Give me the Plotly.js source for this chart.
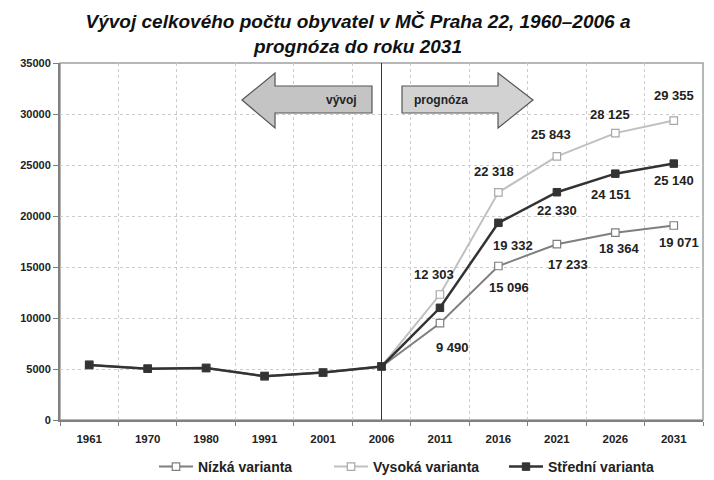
<!DOCTYPE html>
<html>
<head>
<meta charset="utf-8">
<script src="https://cdn.plot.ly/plotly-3.0.1.min.js"></script>
<style>html,body{margin:0;padding:0;background:#fff;}#chart{width:714px;height:480px;}</style>
</head>
<body>
<div id="chart"></div>
<script>
// ---- data ----
var years = ['1961','1970','1980','1991','2001','2006','2011','2016','2021','2026','2031'];
var nizka   = [5400, 5030, 5100, 4300, 4650, 5250, 9490, 15096, 17233, 18364, 19071];
var vysoka  = [5400, 5030, 5100, 4300, 4650, 5250, 12303, 22318, 25843, 28125, 29355];
var stredni = [5400, 5030, 5100, 4300, 4650, 5250, 11000, 19332, 22330, 24151, 25140];
var seriesNames = ['Nízká varianta', 'Vysoká varianta', 'Střední varianta'];
var labelYears = ['2011','2016','2021','2026','2031'];
var yTicks = [0, 5000, 10000, 15000, 20000, 25000, 30000, 35000];

var FONT = '"Liberation Sans", Arial, sans-serif';

function fmt(v) {
  var s = String(v);
  if (s.length > 3) s = s.slice(0, s.length - 3) + ' ' + s.slice(s.length - 3);
  return s;
}

var traces = [
  {x: years, y: nizka, name: seriesNames[0], type: 'scatter', mode: 'lines+markers',
   line: {color: '#7f7f7f', width: 2},
   marker: {symbol: 'square', size: 7.5, color: '#ffffff', line: {color: '#7f7f7f', width: 1.2}}},
  {x: years, y: vysoka, name: seriesNames[1], type: 'scatter', mode: 'lines+markers',
   line: {color: '#c0c0c0', width: 2},
   marker: {symbol: 'square', size: 7.5, color: '#ffffff', line: {color: '#a8a8a8', width: 1.2}}},
  {x: years, y: stredni, name: seriesNames[2], type: 'scatter', mode: 'lines+markers',
   line: {color: '#333333', width: 2.5},
   marker: {symbol: 'square', size: 7.5, color: '#333333', line: {color: '#333333', width: 1}}}
];

// label offsets in screen px [dx, dy] (dy positive = below the point)
var shiftsV = [[-6,-20],[-4,-21],[-6,-22],[-5,-19],[0,-25]];
var shiftsS = [null,[15,23],[0,18],[-4,21],[0,17]];
var shiftsN = [[13,24],[11,21],[11,20],[4,16],[5,17]];

var annotations = [];
function addLabels(vals, shifts) {
  labelYears.forEach(function (yr, i) {
    if (!shifts[i]) return;
    var idx = years.indexOf(yr);
    annotations.push({x: idx, y: vals[idx], xref: 'x', yref: 'y', text: '<b>' + fmt(vals[idx]) + '</b>',
      showarrow: false, xanchor: 'center', yanchor: 'middle',
      xshift: shifts[i][0], yshift: -shifts[i][1],
      font: {family: FONT, size: 13, color: '#222'}});
  });
}
addLabels(vysoka, shiftsV);
addLabels(stredni, shiftsS);
addLabels(nizka, shiftsN);

// plot area in px: x 60..703, y 63..420
function px(x) { return (x - 60) / 643; }
function py(y) { return (420 - y) / 357; }
function path(pts) {
  return pts.map(function (p, i) { return (i ? 'L' : 'M') + px(p[0]).toFixed(4) + ',' + py(p[1]).toFixed(4); }).join(' ') + ' Z';
}
var leftArrow = [[242,100],[275,73],[275,86],[372,86],[372,113],[275,113],[275,128]];
var rightArrow = [[402,86],[498,86],[498,73],[533,100],[498,128],[498,113],[402,113]];

annotations.push({xref: 'paper', yref: 'paper', x: px(341), y: py(100), xanchor: 'center', yanchor: 'middle',
  text: '<b>vývoj</b>', showarrow: false, font: {family: FONT, size: 12, color: '#222'}});
annotations.push({xref: 'paper', yref: 'paper', x: px(441), y: py(100), xanchor: 'center', yanchor: 'middle',
  text: '<b>prognóza</b>', showarrow: false, font: {family: FONT, size: 12, color: '#222'}});

var shapes = [
  {type: 'rect', xref: 'paper', yref: 'paper', x0: 0, x1: 1, y0: 0, y1: 1, line: {color: '#a0a0a0', width: 1.5}, layer: 'below'},
  {type: 'line', xref: 'x', yref: 'paper', x0: 5, x1: 5, y0: 0, y1: 1, line: {color: '#333', width: 1}},
  {type: 'path', xref: 'paper', yref: 'paper', path: path(leftArrow), fillcolor: '#c4c4c4', line: {color: '#555', width: 1.2}},
  {type: 'path', xref: 'paper', yref: 'paper', path: path(rightArrow), fillcolor: '#d2d2d2', line: {color: '#555', width: 1.2}}
];

var layout = {
  width: 714, height: 480,
  margin: {l: 60, r: 11, t: 63, b: 60, autoexpand: false},
  paper_bgcolor: '#fff', plot_bgcolor: '#fff',
  font: {family: FONT, size: 11, color: '#222'},
  title: {text: '<b><i>Vývoj celkového počtu obyvatel v MČ Praha 22, 1960–2006 a<br>prognóza do roku 2031</i></b>',
    font: {family: FONT, size: 19, color: '#111'}, x: 358 / 714, xanchor: 'center', xref: 'container',
    y: 1 - 28 / 480, yanchor: 'middle', yref: 'container'},
  xaxis: {type: 'category', range: [-0.5, 10.5], tickson: 'boundaries', ticks: 'outside', ticklen: 4,
    tickcolor: '#808080', showline: true, linecolor: '#808080', linewidth: 2, ticklabelstandoff: 7,
    showgrid: true, gridcolor: '#cccccc', griddash: 'dot', gridwidth: 1,
    tickfont: {family: FONT, size: 11.5, color: '#222', weight: 'bold'}, fixedrange: true},
  yaxis: {range: [0, 35000], tickvals: yTicks, tickformat: 'd', ticks: 'outside', ticklen: 5,
    tickcolor: '#808080', showline: true, linecolor: '#808080', linewidth: 2,
    showgrid: true, gridcolor: '#cccccc', griddash: 'dot', gridwidth: 1, zeroline: false,
    tickfont: {family: FONT, size: 11, color: '#222', weight: 'bold'}, fixedrange: true},
  showlegend: true,
  legend: {orientation: 'h', xref: 'container', yref: 'container', x: 154 / 714, xanchor: 'left',
    y: (480 - 467) / 480, yanchor: 'middle',
    entrywidthmode: 'pixels', entrywidth: 126,
    font: {family: FONT, size: 14, color: '#222', weight: 'bold'}, itemwidth: 34, bgcolor: 'rgba(0,0,0,0)'},
  annotations: annotations,
  shapes: shapes
};

Plotly.newPlot('chart', traces, layout, {displayModeBar: false, staticPlot: true});
</script>
</body>
</html>
